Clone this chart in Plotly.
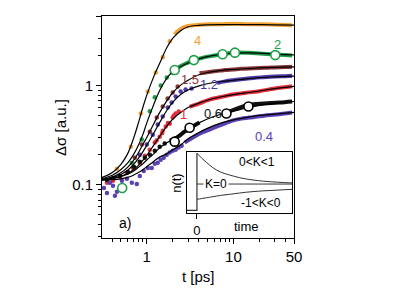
import math
import plotly.graph_objects as go

# ---------------- data ----------------
T_FIT = [0.3, 0.4, 0.5, 0.6, 0.7, 0.8, 0.9, 1.0, 1.2, 1.4, 1.7, 2.0, 2.5, 3, 4, 5, 7, 10, 15, 20, 30, 50]
FIT_4 = [0.118, 0.133, 0.16, 0.205, 0.29, 0.42, 0.6, 0.8, 1.22, 1.65, 2.4, 3.0, 3.6, 3.9, 4.03, 4.07, 4.1, 4.1, 4.1, 4.1, 4.08, 4.04]
FIT_2 = [0.115, 0.125, 0.142, 0.165, 0.2, 0.25, 0.32, 0.42, 0.64, 0.88, 1.18, 1.38, 1.56, 1.68, 1.85, 1.95, 2.05, 2.12, 2.13, 2.12, 2.07, 2.03]
FIT_15 = [0.113, 0.12, 0.132, 0.15, 0.175, 0.21, 0.255, 0.3, 0.41, 0.53, 0.7, 0.85, 1.02, 1.13, 1.28, 1.35, 1.41, 1.45, 1.48, 1.5, 1.52, 1.54]
FIT_12 = [0.112, 0.118, 0.127, 0.14, 0.16, 0.185, 0.215, 0.25, 0.33, 0.42, 0.56, 0.68, 0.82, 0.9, 0.99, 1.04, 1.09, 1.13, 1.17, 1.2, 1.22, 1.24]
FIT_1 = [0.112, 0.116, 0.122, 0.13, 0.142, 0.157, 0.176, 0.198, 0.25, 0.305, 0.39, 0.46, 0.54, 0.6, 0.665, 0.71, 0.765, 0.81, 0.85, 0.88, 0.93, 0.98]
FIT_06 = [0.112, 0.116, 0.121, 0.128, 0.137, 0.15, 0.163, 0.178, 0.205, 0.235, 0.265, 0.29, 0.33, 0.365, 0.42, 0.46, 0.51, 0.55, 0.6, 0.63, 0.66, 0.69]
FIT_04 = [0.112, 0.113, 0.115, 0.119, 0.125, 0.133, 0.142, 0.152, 0.172, 0.19, 0.205, 0.225, 0.255, 0.29, 0.335, 0.37, 0.415, 0.45, 0.48, 0.5, 0.515, 0.535]

S4_T = [0.452, 0.655, 0.853, 1.027, 1.27, 1.53, 1.84]
S4_V = [0.145, 0.242, 0.522, 0.87, 1.35, 1.92, 2.78]
S4D_T = [2.1, 2.21, 2.59, 3.12, 4.06, 5.29, 6.9, 10.3, 15.2, 22.6, 33.7, 47.6]
S4D_V = [3.25, 3.43, 3.81, 3.99, 4.08, 4.13, 4.13, 4.18, 4.13, 4.13, 4.08, 4.04]

S2_T = [0.672, 0.876, 1.083, 1.236, 1.45, 1.70]
S2_V = [0.166, 0.286, 0.55, 0.76, 1.0, 1.2]
S2D_T = [1.9, 2.1, 2.5, 3.0, 3.5, 4.0, 5.0, 6.0, 7.5, 10.0, 15.0, 20.0, 30.0, 40.0, 47.6]
S2D_V = [1.30, 1.43, 1.58, 1.70, 1.80, 1.86, 1.95, 2.0, 2.06, 2.14, 2.13, 2.1, 2.05, 2.02, 2.0]
C2_T = [0.52, 2.10, 3.49, 7.5, 10.4, 30.4]
C2_V = [0.093, 1.43, 1.80, 2.06, 2.14, 2.02]

S15_T = [0.728, 0.876, 1.083, 1.303, 1.527, 1.74, 1.99, 2.27]
S15_V = [0.187, 0.254, 0.343, 0.475, 0.614, 0.739, 0.85, 0.977]
S15D_T = [4.06, 5.0, 6.0, 7.0, 8.0, 10.0, 12.0, 15.0, 20.0, 25.0, 30.0, 40.0, 47.6]
S15D_V = [1.33, 1.36, 1.39, 1.41, 1.43, 1.45, 1.47, 1.48, 1.5, 1.51, 1.52, 1.53, 1.54]

S12_T = [0.831, 1.0, 1.172, 1.338, 1.527, 1.743, 1.937, 2.153, 2.458, 2.806, 3.29]
S12_V = [0.201, 0.254, 0.32, 0.404, 0.486, 0.599, 0.673, 0.774, 0.87, 0.911, 0.932]
S12D_T = [6.5, 8.0, 10.0, 13.0, 17.0, 22.0, 30.0, 40.0, 47.6]
S12D_V = [1.06, 1.1, 1.13, 1.16, 1.19, 1.21, 1.23, 1.24, 1.25]

S1_T = [0.347, 0.407, 0.49, 0.589, 0.69, 0.831, 0.948, 1.083, 1.236, 1.3, 1.41, 1.5, 1.527, 1.653, 1.75, 1.838, 1.99, 2.05, 2.153, 2.333]
S1_V = [0.105, 0.11, 0.12, 0.132, 0.149, 0.167, 0.196, 0.226, 0.266, 0.28, 0.305, 0.33, 0.351, 0.386, 0.42, 0.413, 0.475, 0.5, 0.522, 0.546]
S1D_T = [3.12, 4.06, 5.29, 7.0, 9.7, 14.0, 19.8, 30.0, 47.6]
S1D_V = [0.61, 0.66, 0.72, 0.76, 0.81, 0.845, 0.876, 0.93, 0.98]

S06_T = [0.347, 0.407, 0.49, 0.605, 0.709, 0.831, 0.948, 1.083, 1.236, 1.41, 1.61]
S06_V = [0.112, 0.117, 0.123, 0.135, 0.152, 0.171, 0.187, 0.201, 0.22, 0.242, 0.26]
S06D1_T = [1.84, 2.1, 2.39, 2.73, 3.12, 3.38, 4.06]
S06D1_V = [0.278, 0.29, 0.313, 0.343, 0.37, 0.386, 0.423]
S06D2_T = [8.3, 10.26, 12.5, 15.2, 22.6, 33.7, 47.6]
S06D2_V = [0.53, 0.573, 0.61, 0.643, 0.66, 0.673, 0.69]
C06_T = [2.098, 3.121, 8.30, 14.9]
C06_V = [0.272, 0.376, 0.522, 0.614]

S04_T = [0.32, 0.347, 0.375, 0.407, 0.429, 0.452, 0.516, 0.589, 0.672, 0.767, 0.831, 0.923, 1.027, 1.14,
         1.236, 1.338, 1.448, 1.568, 1.698, 1.838, 1.99, 2.153, 2.333, 2.526]
S04_V = [0.093, 0.083, 0.105, 0.098, 0.0775, 0.085, 0.11, 0.115, 0.105, 0.102, 0.123, 0.138, 0.148, 0.148,
         0.163, 0.167, 0.179, 0.187, 0.201, 0.211, 0.22, 0.226, 0.237, 0.248]
S04D_T = [2.733, 3.121, 4.06, 5.29, 6.37, 7.87, 9.73, 12.3, 15.2, 22.6, 31.1, 47.6]
S04D_V = [0.266, 0.286, 0.327, 0.36, 0.386, 0.413, 0.443, 0.464, 0.475, 0.497, 0.51, 0.534]

LABELS = ["4", "2", "1.5", "1.2", "1", "0.6", "0.4"]
LABEL_T = [3.86, 32.0, 3.12, 5.16, 2.66, 5.74, 22.7]
LABEL_V = [2.85, 2.6, 1.15, 1.02, 0.51, 0.522, 0.305]

X_TICKS = [1, 10, 50]
Y_TICKS = [0.1, 1, 5]
X_MINOR = [0.3, 0.4, 0.5, 0.6, 0.7, 0.8, 0.9, 2, 3, 4, 5, 6, 7, 8, 9, 20, 30, 40]
Y_MINOR = [0.03, 0.04, 0.05, 0.06, 0.07, 0.08, 0.09, 0.2, 0.3, 0.4, 0.5, 0.6, 0.7, 0.8, 0.9, 2, 3]

# inset (schematic n(t))
IN_T = [0, 0.5, 1, 1.67, 2.5, 3.44, 4.5, 5.2, 6.9, 8.5, 10]
IN_POS = [2.17, 1.98, 1.82, 1.62, 1.45, 1.34, 1.24, 1.19, 1.11, 1.07, 1.04]
IN_NEG = [0.42, 0.45, 0.48, 0.52, 0.57, 0.61, 0.66, 0.69, 0.74, 0.77, 0.80]
IN_ZERO = [1.0] * len(IN_T)
IN_PRE_T = [-1.2, 0, 0]
IN_PRE_N = [0, 0, 2.17]

COLORS = {"4": "#f2a232", "2": "#1d9e46", "1.5": "#8c3838", "1.2": "#4e3aa6",
          "1": "#e5303c", "0.6": "#111111", "0.4": "#5a40b4"}

FONT = "Liberation Sans, Arial, Helvetica, sans-serif"

fig = go.Figure()

sparse = [("4", S4_T, S4_V), ("2", S2_T, S2_V), ("1.5", S15_T, S15_V), ("1.2", S12_T, S12_V),
          ("1", S1_T, S1_V), ("0.6", S06_T, S06_V), ("0.4", S04_T, S04_V)]
dense = [("4", S4D_T, S4D_V), ("2", S2D_T, S2D_V), ("1.5", S15D_T, S15D_V), ("1.2", S12D_T, S12D_V),
         ("1", S1D_T, S1D_V), ("0.6", S06D1_T, S06D1_V), ("0.6", S06D2_T, S06D2_V), ("0.4", S04D_T, S04D_V)]

for k, t, v in sparse:
    fig.add_trace(go.Scatter(x=t, y=v, mode="markers", showlegend=False,
                             marker=dict(size=4.5, color=COLORS[k])))
for k, t, v in dense:
    fig.add_trace(go.Scatter(x=t, y=v, mode="lines", showlegend=False,
                             line=dict(width=4, color=COLORS[k], shape="spline")))
for f in [FIT_4, FIT_2, FIT_15, FIT_12, FIT_1, FIT_06, FIT_04]:
    fig.add_trace(go.Scatter(x=T_FIT, y=f, mode="lines", showlegend=False,
                             line=dict(width=1.2, color="black", shape="spline")))
fig.add_trace(go.Scatter(x=C2_T, y=C2_V, mode="markers", showlegend=False,
                         marker=dict(size=9, color="white", line=dict(width=1.6, color=COLORS["2"]))))
fig.add_trace(go.Scatter(x=C06_T, y=C06_V, mode="markers", showlegend=False,
                         marker=dict(size=9, color="white", line=dict(width=1.6, color="black"))))

# inset traces
for n in [IN_POS, IN_ZERO, IN_NEG]:
    fig.add_trace(go.Scatter(x=IN_T, y=n, mode="lines", showlegend=False, xaxis="x2", yaxis="y2",
                             line=dict(width=1, color="#333333", shape="spline")))
fig.add_trace(go.Scatter(x=IN_PRE_T, y=IN_PRE_N, mode="lines", showlegend=False, xaxis="x2", yaxis="y2",
                         line=dict(width=1.2, color="#333333")))


def note(x, y, text, size, ref=("paper", "paper"), color="black", angle=0, bg=None):
    d = dict(x=x, y=y, xref=ref[0], yref=ref[1], text=text, showarrow=False, textangle=angle,
             xanchor="center", yanchor="middle",
             font=dict(size=size, color=color, family=FONT))
    if bg:
        d.update(bgcolor=bg, borderpad=1)
    return d


annotations = []
for lab, t, v in zip(LABELS, LABEL_T, LABEL_V):
    annotations.append(note(math.log10(t), math.log10(v), lab, 13, ("x", "y"), COLORS[lab]))
annotations += [
    note(-0.219, 0.5, "Δσ [a.u.]", 15, angle=-90),
    note(0.5, -0.172, "t [ps]", 15),
    note(0.12, 0.068, "a)", 14),
    note(6.35, 1.83, "0<K<1", 12, ("x2", "y2")),
    note(6.7, 0.29, "-1<K<0", 12, ("x2", "y2")),
    note(2.0, 1.0, "K=0", 12, ("x2", "y2"), bg="white"),
    note(0.39, 0.248, "n(t)", 13, angle=-90),
    note(0.755, 0.054, "time", 13),
]

# page body has an 8px margin, so the figure is drawn 8px in from the window corner
fig.update_layout(
    width=399, height=278,
    margin=dict(l=94, r=113, t=8, b=48),
    paper_bgcolor="white", plot_bgcolor="white",
    font=dict(family=FONT, color="black"),
    xaxis=dict(type="log", range=[-0.517, 1.699], showgrid=False, zeroline=False,
               showline=True, linecolor="black", linewidth=1, mirror=True,
               tickmode="array", tickvals=X_TICKS, ticktext=[str(x) for x in X_TICKS],
               ticks="outside", ticklen=5, tickcolor="black", tickfont=dict(size=15),
               minor=dict(tickmode="array", tickvals=X_MINOR, ticks="outside", ticklen=3, tickcolor="black")),
    yaxis=dict(type="log", range=[-1.535, 0.699], showgrid=False, zeroline=False,
               showline=True, linecolor="black", linewidth=1, mirror=True,
               tickmode="array", tickvals=Y_TICKS, ticktext=["0.1", "1", "5"],
               ticks="outside", ticklen=5, tickcolor="black", tickfont=dict(size=15),
               minor=dict(tickmode="array", tickvals=Y_MINOR, ticks="outside", ticklen=3, tickcolor="black")),
    xaxis2=dict(domain=[0.443, 0.99], anchor="y2", range=[-1.04, 10], showgrid=False, zeroline=False,
                showline=True, linecolor="black", linewidth=1, mirror=True,
                tickmode="array", tickvals=[0], ticktext=["0"], ticks="outside", ticklen=5,
                tickcolor="black", tickfont=dict(size=13)),
    yaxis2=dict(domain=[0.113, 0.387], anchor="x2", range=[-0.094, 2.21], showgrid=False, zeroline=False,
                showline=True, linecolor="black", linewidth=1, mirror=True,
                showticklabels=False, ticks=""),
    annotations=annotations,
)

fig.write_html("out.html")
